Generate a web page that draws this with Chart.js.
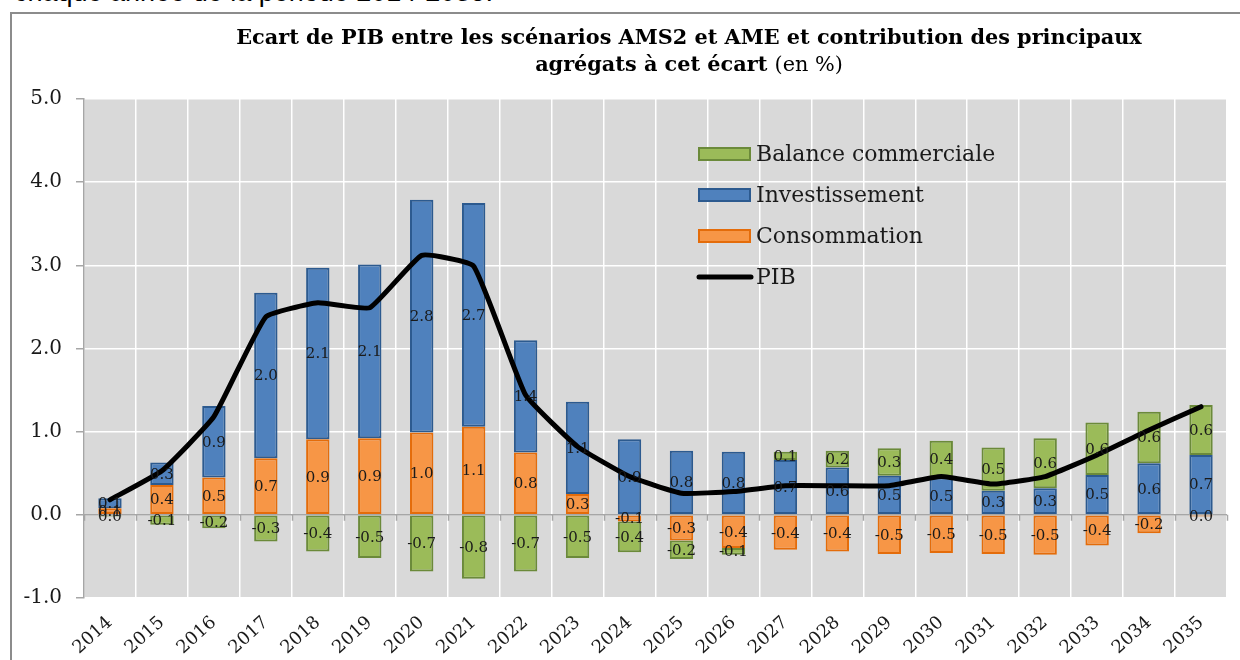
<!DOCTYPE html>
<html>
<head>
<meta charset="utf-8">
<script src="https://cdn.jsdelivr.net/npm/chart.js@4"></script>
<style>
  html, body { margin: 0; padding: 0; background: #fff; overflow: hidden; }
  #wrap { position: relative; width: 1240px; height: 660px; overflow: hidden; }
  #above { position: absolute; left: 14px; top: -21px; font: 27px "Liberation Sans", Arial, sans-serif; color: #000; white-space: nowrap; line-height: 1; }
  #frame { position: absolute; left: 10px; top: 12px; right: -10px; bottom: -10px; border: 2px solid #8c8c8c; }
  #title { position: absolute; left: 139px; width: 1100px; top: 23px; text-align: center;
           font-family: "DejaVu Serif", serif; font-weight: bold; font-size: 20.8px; line-height: 27px; color: #000; }
  #title span { font-weight: normal; }
  canvas { position: absolute; left: 0; top: 0; }
</style>
</head>
<body>
<div id="wrap">
  <div id="above">chaque année de la période 2014-2035.</div>
  <div id="frame"></div>
  <canvas id="c" width="1240" height="660"></canvas>
  <div id="title">Ecart de PIB entre les scénarios AMS2 et AME et contribution des principaux<br>agrégats à cet écart <span>(en %)</span></div>
</div>
<script>
/* valeurs */
const YEARS = ["2014","2015","2016","2017","2018","2019","2020","2021","2022","2023","2024",
               "2025","2026","2027","2028","2029","2030","2031","2032","2033","2034","2035"];
const CONSOMMATION   = [0.08, 0.36, 0.45, 0.68, 0.91, 0.92, 0.99, 1.06, 0.75, 0.25, -0.08,
                        -0.31, -0.40, -0.42, -0.44, -0.47, -0.46, -0.47, -0.48, -0.37, -0.22, -0.02];
const INVESTISSEMENT = [0.12, 0.27, 0.86, 1.99, 2.06, 2.09, 2.80, 2.69, 1.35, 1.11, 0.91,
                        0.77, 0.76, 0.66, 0.57, 0.47, 0.45, 0.29, 0.32, 0.48, 0.62, 0.72];
const BALANCE        = [-0.02, -0.12, -0.16, -0.32, -0.44, -0.52, -0.68, -0.77, -0.68, -0.52, -0.37,
                        -0.22, -0.08, 0.10, 0.20, 0.33, 0.44, 0.52, 0.60, 0.63, 0.62, 0.60];
const PIB            = [0.18, 0.53, 1.18, 2.38, 2.55, 2.49, 3.12, 2.99, 1.44, 0.82, 0.46,
                        0.26, 0.28, 0.35, 0.35, 0.35, 0.46, 0.37, 0.46, 0.72, 1.02, 1.30];
const Y_MIN = -1, Y_MAX = 5;

const SERIF = "'DejaVu Serif', serif";
const GRID_GREY = "#a6a6a6";

/* fond gris de la zone de tracé */
const plotBg = {
  id: "plotBg",
  beforeDraw(chart) {
    const { ctx, chartArea: a } = chart;
    ctx.save();
    ctx.fillStyle = "#d9d9d9";
    ctx.fillRect(a.left, a.top, a.right - a.left, a.bottom - a.top);
    ctx.restore();
  },
  /* petites graduations de l'axe des catégories sur la ligne 0 */
  beforeDatasetsDraw(chart) {
    const { ctx, chartArea: a, scales } = chart;
    const y0 = scales.y.getPixelForValue(0);
    const step = (a.right - a.left) / YEARS.length;
    ctx.save();
    ctx.strokeStyle = GRID_GREY;
    ctx.lineWidth = 1.5;
    ctx.beginPath();
    ctx.moveTo(a.left, y0); ctx.lineTo(a.right, y0);
    for (let i = 0; i <= YEARS.length; i++) {
      const x = Math.round(a.left + i * step) + 0.5;
      ctx.moveTo(x, y0); ctx.lineTo(x, y0 + 6);
    }
    ctx.stroke();
    ctx.restore();
  },
};

/* étiquettes de valeurs au centre de chaque segment */
const barLabels = {
  id: "barLabels",
  afterDatasetsDraw(chart) {
    const { ctx } = chart;
    ctx.save();
    ctx.font = "15px " + SERIF;
    ctx.fillStyle = "#1a1a1a";
    ctx.textAlign = "center";
    ctx.textBaseline = "middle";
    chart.data.datasets.forEach((ds, di) => {
      if (ds.type === "line") return;
      const meta = chart.getDatasetMeta(di);
      meta.data.forEach((el, i) => {
        const v = ds.data[i];
        const txt = Math.abs(v) < 0.05 ? "0.0" : v.toFixed(1);
        ctx.fillText(txt, el.x, (el.y + el.base) / 2 + 1);
      });
    });
    ctx.restore();
  },
};

/* légende dans la zone de tracé */
const inLegend = {
  id: "inLegend",
  afterDraw(chart) {
    const { ctx } = chart;
    const ds = chart.data.datasets;
    const rows = [2, 1, 0, 3];
    ctx.save();
    ctx.font = "22px " + SERIF;
    ctx.textBaseline = "middle";
    rows.forEach((di, r) => {
      const d = ds[di];
      const y = 154 + r * 41;
      if (d.type === "line") {
        ctx.strokeStyle = d.borderColor;
        ctx.lineWidth = 5;
        ctx.lineCap = "round";
        ctx.beginPath();
        ctx.moveTo(699, y); ctx.lineTo(751, y);
        ctx.stroke();
      } else {
        ctx.fillStyle = d.backgroundColor;
        ctx.strokeStyle = d.borderColor;
        ctx.lineWidth = 2;
        ctx.fillRect(699, y - 6, 51, 12);
        ctx.strokeRect(699, y - 6, 51, 12);
      }
      ctx.fillStyle = "#1a1a1a";
      ctx.fillText(d.label, 756, y + 1);
    });
    ctx.restore();
  },
};

const barBase = { type: "bar", borderWidth: 2, borderSkipped: false, barPercentage: 0.45, categoryPercentage: 1, order: 1 };

new Chart(document.getElementById("c"), {
  data: {
    labels: YEARS,
    datasets: [
      { ...barBase, label: "Consommation", data: CONSOMMATION,
        backgroundColor: "#f79646", borderColor: "#e46c0a" },
      { ...barBase, label: "Investissement", data: INVESTISSEMENT,
        backgroundColor: "#4f81bd", borderColor: "#2c5a8f" },
      { ...barBase, label: "Balance commerciale", data: BALANCE,
        backgroundColor: "#9bbb59", borderColor: "#6b8a3a" },
      { type: "line", label: "PIB", data: PIB, order: 0,
        borderColor: "#000", borderWidth: 5, tension: 0.12,
        pointRadius: 0, fill: false, borderCapStyle: "round", borderJoinStyle: "round" },
    ],
  },
  options: {
    responsive: false,
    animation: false,
    layout: { padding: { top: 99, right: 13, left: 0, bottom: 0 } },
    plugins: { legend: { display: false }, tooltip: { enabled: false } },
    scales: {
      x: {
        stacked: true,
        offset: true,
        grid: { color: "#ffffff", lineWidth: 1.5, offset: true, drawTicks: false },
        border: { display: false },
        ticks: { color: "#1a1a1a", font: { family: SERIF, size: 18 },
                 maxRotation: 42, minRotation: 42, autoSkip: false, padding: 14 },
        afterFit(s) { s.height = 62; },
      },
      y: {
        stacked: true,
        min: Y_MIN, max: Y_MAX,
        grid: { color: "#ffffff", lineWidth: 1.5, tickColor: GRID_GREY, tickLength: 8 },
        border: { display: true, color: GRID_GREY, width: 1.5 },
        ticks: { stepSize: 1, color: "#1a1a1a", padding: 14,
                 font: { family: SERIF, size: 20 },
                 callback: v => v.toFixed(1) },
        afterFit(s) { s.width = 84; },
      },
    },
  },
  plugins: [plotBg, barLabels, inLegend],
});
</script>
</body>
</html>
